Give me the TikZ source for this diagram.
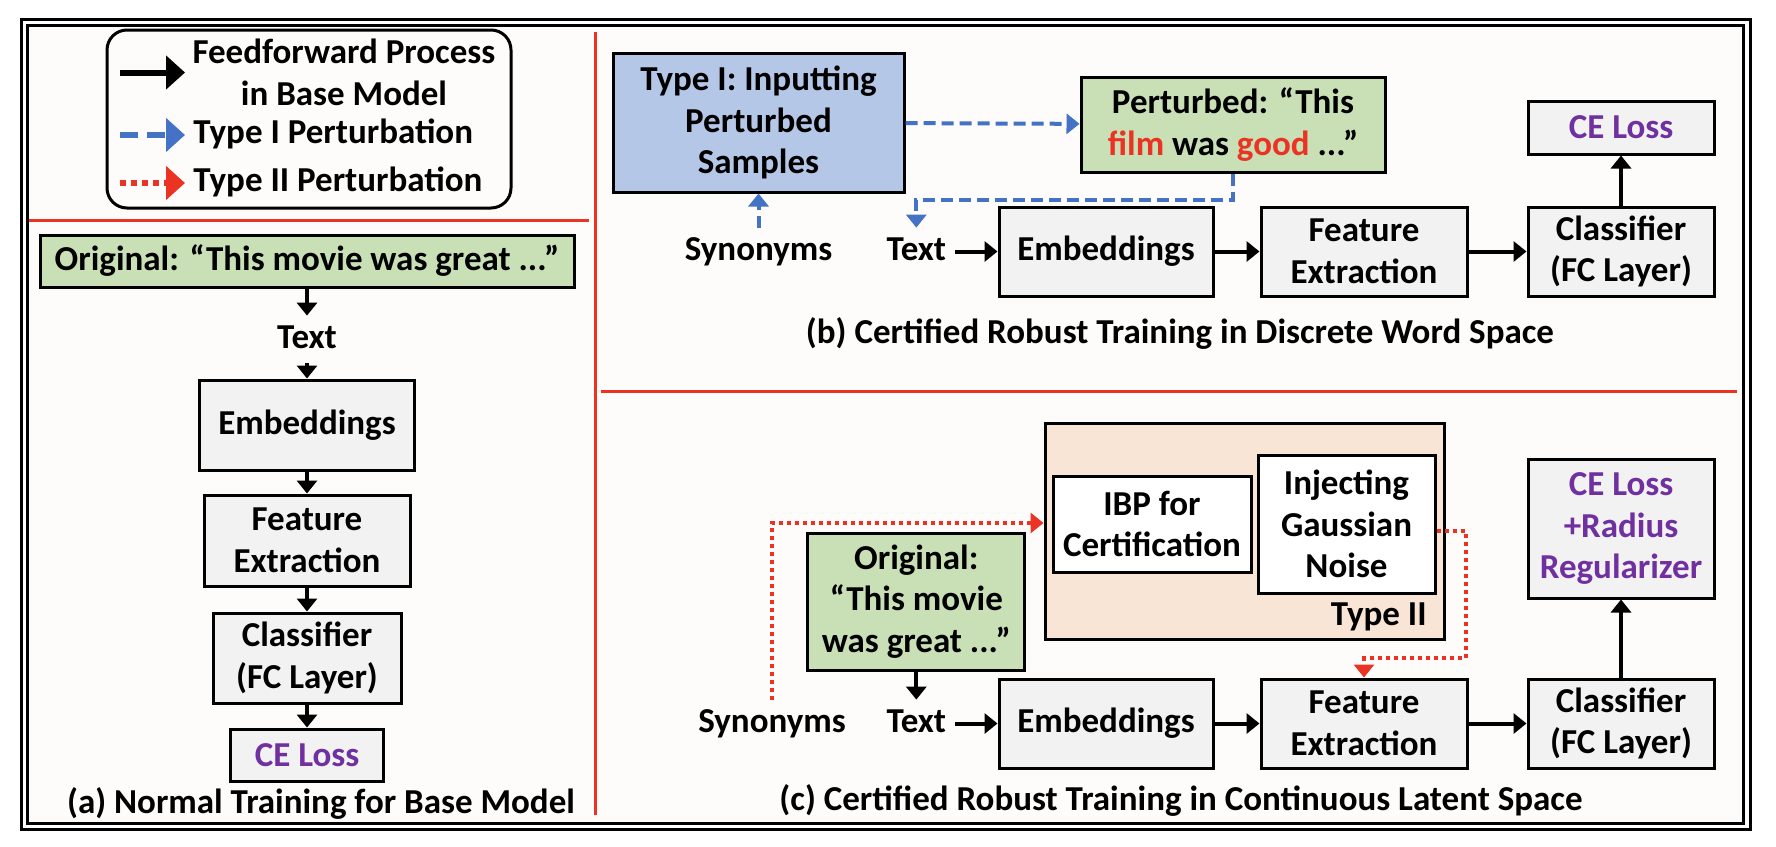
\documentclass[tikz,border=0pt]{standalone}
\usepackage{fontspec}
\setmainfont{Carlito}
\usetikzlibrary{positioning,arrows.meta}
\definecolor{boxgray}{RGB}{242,242,242}
\definecolor{boxgreen}{RGB}{201,224,183}
\definecolor{boxblue}{RGB}{180,199,231}
\definecolor{boxpeach}{RGB}{248,229,214}
\definecolor{lossviolet}{RGB}{112,48,160}
\definecolor{tIblue}{RGB}{68,114,196}
\definecolor{tIIred}{RGB}{234,51,35}
\definecolor{panelbg}{RGB}{253,252,250}
\tikzset{
  blk/.style={draw,line width=1.5pt,fill=boxgray,align=center,inner sep=0pt},
  lbl/.style={inner sep=4pt,text height=12pt,text depth=3.5pt},
  ff/.style={line width=2pt,-{Triangle[length=6.5pt,width=10pt]}},
  typeone/.style={tIblue,line width=2pt,dash pattern=on 6pt off 3pt,-{Triangle[length=6.5pt,width=10pt]}},
  typetwo/.style={tIIred,line width=2pt,dash pattern=on 2pt off 2pt,-{Triangle[length=6.5pt,width=10pt]}},
  legarrow/.style={line width=3pt,-{Triangle[length=9.5pt,width=16.5pt]}},
  divider/.style={tIIred,line width=1.5pt}
}
\begin{document}
\begin{tikzpicture}[x=0.5pt,y=-0.5pt,font=\bfseries\fontsize{17.5}{20.75}\selectfont]
  \useasboundingbox (0,0) rectangle (1776,846);
  \draw[line width=1.5pt] (21,19.5) rectangle (1750,829);
  \draw[line width=1.5pt,fill=panelbg] (27,25.5) rectangle (1743,823);
  \draw[divider] (595,32) -- (595,815);
  \draw[divider] (29,220) -- (589,220);
  \draw[divider] (601,391) -- (1737,391);

  % legend
  \node (legbox) [draw,line width=1.5pt,rounded corners=10pt,minimum width=202pt,minimum height=89pt] at (309,119) {};
  \node (legFF) [align=center] at (344,72.5) {Feedforward Process\\in Base Model};
  \node (legT1) [lbl,anchor=west] at (185,135) {Type I Perturbation};
  \node (legT2) [lbl,anchor=west] at (185,183) {Type II Perturbation};
  \coordinate (ffS) at (120,72.5);
  \coordinate (t1S) at (120,135);
  \coordinate (t2S) at (120,183);
  \draw[legarrow] (ffS) -- (ffS -| legT1.west);
  \draw[typeone,legarrow,dash pattern=on 9pt off 4.5pt] (t1S) -- (legT1.west);
  \draw[typetwo,legarrow,dash pattern=on 3pt off 2.5pt] (t2S) -- (legT2.west);

  % (a)
  \node (origA) [blk,fill=boxgreen,minimum width=267pt,minimum height=26pt] at (307,261) {Original: “This movie was great ...”};
  \node (textA) [lbl] at (307,339.5) {Text};
  \node (embA) [blk,minimum width=107.5pt,minimum height=45pt] at (307,425) {Embeddings};
  \node (featA) [blk,minimum width=103pt,minimum height=45.5pt] [below=11pt of embA] {Feature\\Extraction};
  \node (clsA) [blk,minimum width=94pt,minimum height=45pt] [below=12pt of featA] {Classifier\\(FC Layer)};
  \node (lossA) [blk,text=lossviolet,minimum width=76.5pt,minimum height=26pt] [below=11.5pt of clsA] {CE Loss};
  \node (capA) at (321,803) {(a) Normal Training for Base Model};
  \draw[ff] (origA) -- (textA);
  \draw[ff] (textA) -- (embA);
  \draw[ff] (embA) -- (featA);
  \draw[ff] (featA) -- (clsA);
  \draw[ff] (clsA) -- (lossA);

  % (b)
  \node (typeI) [blk,fill=boxblue,minimum width=145.5pt,minimum height=69.5pt] at (758.5,122.5) {Type I: Inputting\\Perturbed\\Samples};
  \node (pert) [blk,fill=boxgreen,minimum width=152pt,minimum height=47.5pt] at (1233,124.5) {Perturbed: “This\\\textcolor{tIIred}{film} was \textcolor{tIIred}{good} ...”};
  \node (embB) [blk,minimum width=107pt,minimum height=44.5pt] at (1106,251.5) {Embeddings};
  \node (featB) [blk,minimum width=103pt,minimum height=44.5pt] [right=22.5pt of embB] {Feature\\Extraction};
  \node (clsB) [blk,minimum width=93pt,minimum height=44.5pt] [right=29pt of featB] {Classifier\\(FC Layer)};
  \node (lossB) [blk,text=lossviolet,minimum width=93pt,minimum height=26.5pt] [above=25pt of clsB] {CE Loss};
  \node (textB) [lbl] [left=21.5pt of embB] {Text};
  \node (synB) [lbl] at (typeI |- textB) {Synonyms};
  \node (capB) at (1180,333) {(b) Certified Robust Training in Discrete Word Space};
  \draw[typeone] (synB) -- (typeI);
  \draw[typeone] (typeI) -- (pert);
  \draw[typeone] (pert.south) -- ++(0,26) -| (textB);
  \draw[ff] (textB) -- (embB);
  \draw[ff] (embB) -- (featB);
  \draw[ff] (featB) -- (clsB);
  \draw[ff] (clsB) -- (lossB);

  % (c)
  \node (peach) [blk,fill=boxpeach,minimum width=199.5pt,minimum height=108pt] at (1244.5,531) {};
  \node (ibp) [blk,fill=white,minimum width=99pt,minimum height=48pt] at (1152,524) {IBP for\\Certification};
  \node (inj) [blk,fill=white,minimum width=88.5pt,minimum height=69pt] at (1346.5,524) {Injecting\\Gaussian\\Noise};
  \node (tII) [anchor=east,inner sep=0pt] at (1427,617) {Type II};
  \node (embC) [blk,minimum width=107pt,minimum height=44.5pt] at (1106,723.5) {Embeddings};
  \node (featC) [blk,minimum width=103pt,minimum height=44.5pt] [right=22.5pt of embC] {Feature\\Extraction};
  \node (clsC) [blk,minimum width=93pt,minimum height=44.5pt] [right=29pt of featC] {Classifier\\(FC Layer)};
  \node (lossC) [blk,text=lossviolet,minimum width=93pt,minimum height=69.5pt] [above=39pt of clsC] {CE Loss\\+Radius\\Regularizer};
  \node (textC) [lbl] [left=21.5pt of embC] {Text};
  \node (synC) [lbl] [left=12pt of textC] {Synonyms};
  \node (origC) [blk,fill=boxgreen,minimum width=108.5pt,minimum height=68.5pt] [above=14pt of textC] {Original:\\“This movie\\was great ...”};
  \node (capC) at (1181,800) {(c) Certified Robust Training in Continuous Latent Space};
  \draw[typetwo] (synC) |- ([yshift=4pt]peach.west);
  \draw[typetwo] ([yshift=-3.5pt]inj.east) -- ++(29,0) -- ++(0,127) -| (featC);
  \draw[ff] (origC) -- (textC);
  \draw[ff] (textC) -- (embC);
  \draw[ff] (embC) -- (featC);
  \draw[ff] (featC) -- (clsC);
  \draw[ff] (clsC) -- (lossC);
\end{tikzpicture}
\end{document}
